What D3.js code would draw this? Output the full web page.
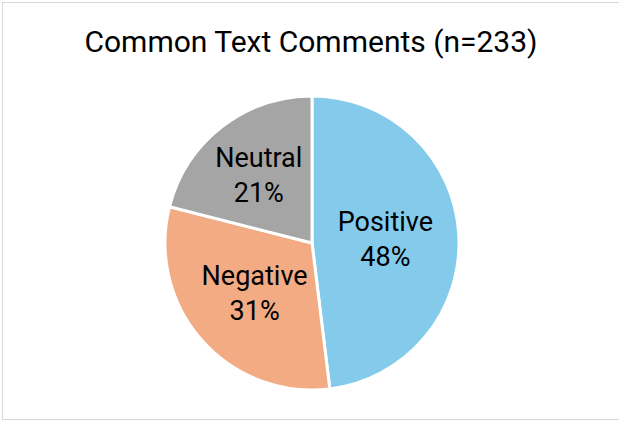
<!DOCTYPE html>
<html>
<head>
<meta charset="utf-8">
<script src="https://cdn.jsdelivr.net/npm/d3@7"></script>
<style>
  html, body { margin: 0; padding: 0; background: #fff; }
  svg { display: block; font-family: Roboto, "Liberation Sans", sans-serif; }
</style>
</head>
<body>
<div id="app"></div>
<script>
const categories = ['Positive', 'Negative', 'Neutral'];
const counts = [112, 72, 49];
const colors = ['#84cbeb', '#f3ab84', '#a5a5a5'];
const title = 'Common Text Comments (n=233)';

const w = 619;
const h = 421;
const cx = 312;
const cy = 243;
const r = 147;

// how far out each label sits, as share of radius
const labelPos = { Positive: 0.5, Negative: 0.52, Neutral: 0.59 };

const data = categories.map((c, i) => ({ name: c, value: counts[i] }));
const total = d3.sum(counts);

const color = d3.scaleOrdinal(categories, colors);

const svg = d3.select('#app').append('svg')
  .attr('width', w)
  .attr('height', h)
  .attr('viewBox', [0, 0, w, h]);

// chart border
svg.append('rect')
  .attr('x', 2.5)
  .attr('y', 2.5)
  .attr('width', w + 5)
  .attr('height', h - 4)
  .attr('fill', '#fff')
  .attr('stroke', '#d9d9d9')
  .attr('stroke-width', 1);

svg.append('text')
  .attr('x', 311)
  .attr('y', 52)
  .attr('text-anchor', 'middle')
  .attr('font-size', 30)
  .attr('fill', '#000')
  .text(title);

const pie = d3.pie()
  .sort(null)
  .value(d => d.value);

const arc = d3.arc()
  .innerRadius(0)
  .outerRadius(r);

const g = svg.append('g')
  .attr('transform', `translate(${cx},${cy})`);

const arcs = pie(data);

g.selectAll('path')
  .data(arcs)
  .join('path')
  .attr('d', arc)
  .attr('fill', d => color(d.data.name))
  .attr('stroke', '#fff')
  .attr('stroke-width', 3)
  .attr('stroke-linejoin', 'round');

const labels = g.selectAll('text.lbl')
  .data(arcs)
  .join('text')
  .attr('class', 'lbl')
  .attr('text-anchor', 'middle')
  .attr('font-size', 27)
  .attr('fill', '#000')
  .attr('transform', d => {
    const lr = r * labelPos[d.data.name];
    const [x, y] = d3.arc().innerRadius(lr).outerRadius(lr).centroid(d);
    return `translate(${x},${y})`;
  });

labels.append('tspan')
  .attr('x', 0)
  .attr('y', -8)
  .text(d => d.data.name);

labels.append('tspan')
  .attr('x', 0)
  .attr('y', 27)
  .text(d => Math.round(d.data.value / total * 100) + '%');
</script>
</body>
</html>
